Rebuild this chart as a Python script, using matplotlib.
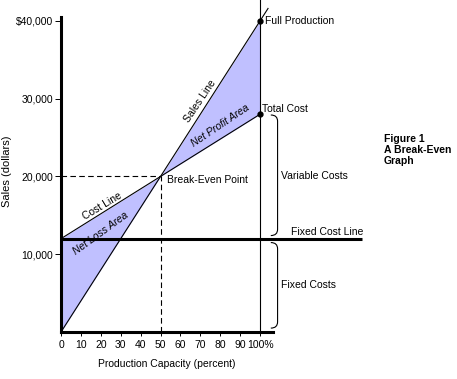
import matplotlib

matplotlib.use("Agg")
import matplotlib.pyplot as plt
from matplotlib.patches import PathPatch
from matplotlib.path import Path

# data
capacity = [0, 50, 100]
sales = [0, 20000, 40000]
total_cost = [12000, 20000, 28000]
sales_line_x = [0, 104]
sales_line_y = [0, 41600]
fixed_cost = 12000
break_even = (50, 20000)
full_production = (100, 40000)
total_cost_point = (100, 28000)

x_ticks = [0, 10, 20, 30, 40, 50, 60, 70, 80, 90, 100]
x_tick_labels = ["0", "10", "20", "30", "40", "50", "60", "70", "80", "90", "100%"]
y_ticks = [10000, 20000, 30000, 40000]
y_tick_labels = ["10,000", "20,000", "30,000", "$40,000"]

FILL = "#c0c0ff"
FONT = 7.5

plt.rcParams["font.family"] = ["Liberation Sans", "DejaVu Sans"]


def draw_brace(axis, x_hook, x_bar, y_top, y_bottom, dy):
    verts = [
        (x_hook, y_top),
        (x_bar, y_top),
        (x_bar, y_top - dy),
        (x_bar, y_bottom + dy),
        (x_bar, y_bottom),
        (x_hook, y_bottom),
    ]
    codes = [Path.MOVETO, Path.CURVE3, Path.CURVE3, Path.LINETO, Path.CURVE3, Path.CURVE3]
    patch = PathPatch(Path(verts, codes), facecolor="none", edgecolor="black",
                      lw=0.8, clip_on=False)
    axis.add_patch(patch)


figure = plt.figure(figsize=(4.57, 3.79), dpi=100)
axis = figure.add_axes([61 / 457, 47 / 379, 212 / 457, 315 / 379])
axis.set_xlim(0, 106.5)
axis.set_ylim(0, 40500)

for side in ("top", "right"):
    axis.spines[side].set_visible(False)
for side in ("left", "bottom"):
    axis.spines[side].set_linewidth(2.2)

# shaded profit / loss areas
axis.fill_between(capacity, sales, total_cost, color=FILL, lw=0, zorder=1)

# sales line and cost line
axis.plot(sales_line_x, sales_line_y, color="black", lw=0.8, clip_on=False, zorder=3)
axis.plot(capacity, total_cost, color="black", lw=0.8, zorder=3)

# fixed cost line
axis.plot([0, 151], [fixed_cost, fixed_cost], color="black", lw=2.2,
          clip_on=False, zorder=3, solid_capstyle="butt")

# full production vertical
axis.plot([100, 100], [0, 42700], color="black", lw=0.8, clip_on=False, zorder=3)

# break-even dashed guides
axis.plot([0, break_even[0]], [break_even[1], break_even[1]], color="black",
          lw=0.8, dashes=(5, 3), zorder=2)
axis.plot([break_even[0], break_even[0]], [0, break_even[1]], color="black",
          lw=0.8, dashes=(5, 3), zorder=2)

axis.plot([full_production[0], total_cost_point[0]],
          [full_production[1], total_cost_point[1]],
          "o", color="black", ms=3.5, clip_on=False, zorder=4)

# braces
draw_brace(axis, 105.4, 108.8, total_cost_point[1] - 100, fixed_cost + 400, 800)
draw_brace(axis, 105.4, 108.8, fixed_cost - 500, 500, 800)

axis.set_xticks(x_ticks)
axis.set_xticklabels(x_tick_labels)
axis.set_yticks(y_ticks)
axis.set_yticklabels(y_tick_labels)
axis.tick_params(axis="x", direction="out", length=3, width=0.7, pad=3, labelsize=FONT)
axis.tick_params(axis="y", direction="out", length=4.3, width=0.7, pad=1.5, labelsize=FONT)

axis.set_xlabel("Production Capacity (percent)", fontsize=FONT, labelpad=6)
axis.set_ylabel("Sales (dollars)", fontsize=8)
axis.yaxis.set_label_coords(-0.232, 0.51)

# annotations
axis.text(102.5, 40000, "Full Production", fontsize=FONT, ha="left", va="center")
axis.text(101, 28700, "Total Cost", fontsize=FONT, ha="left", va="center")
axis.text(53.5, 19600, "Break-Even Point", fontsize=FONT, ha="left", va="center")
axis.text(110.4, (fixed_cost + total_cost_point[1]) / 2, "Variable Costs",
          fontsize=FONT, ha="left", va="center")
axis.text(110.4, fixed_cost / 2, "Fixed Costs", fontsize=FONT, ha="left", va="center")
axis.text(115.4, fixed_cost + 250, "Fixed Cost Line", fontsize=FONT, ha="left", va="bottom")

axis.text(69.8, 29700, "Sales Line", fontsize=FONT, rotation=56,
          ha="center", va="center", rotation_mode="anchor")
axis.text(79.9, 26480, "Net Profit Area", fontsize=FONT, rotation=34, style="italic",
          ha="center", va="center", rotation_mode="anchor")
axis.text(20.6, 16140, "Cost Line", fontsize=FONT, rotation=31,
          ha="center", va="center", rotation_mode="anchor")
axis.text(20.1, 12706, "Net Loss Area", fontsize=FONT, rotation=36, style="italic",
          ha="center", va="center", rotation_mode="anchor")

figure.text(384 / 457, 1 - 150 / 379, "Figure 1\nA Break-Even\nGraph",
            fontsize=FONT, fontweight="bold", ha="left", va="center", linespacing=1.15)

figure.savefig("out.png", dpi=100)
